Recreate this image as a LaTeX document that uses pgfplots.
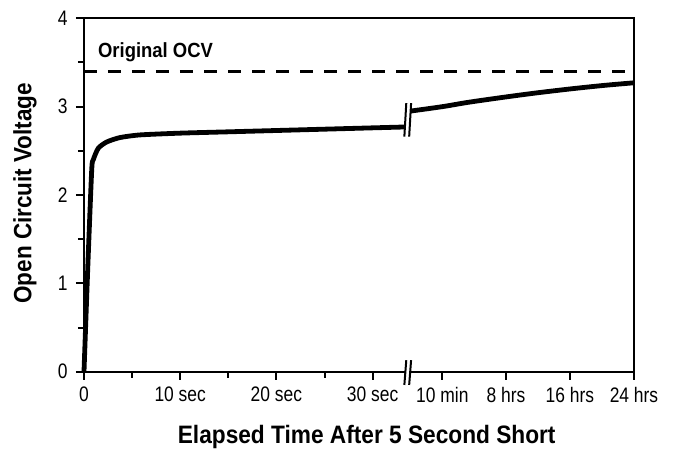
\documentclass[border=0pt]{standalone}
\usepackage{pgfplots}
\pgfplotsset{compat=1.18}
\usepackage{fontspec}
\setmainfont{Liberation Sans}[FakeStretch=0.83]
\newfontfamily\bfont{Liberation Sans}[FakeStretch=0.9]
\begin{document}
\begin{tikzpicture}[x=1pt,y=1pt]
\useasboundingbox (-84,-78.3) rectangle (596,371.7);
\begin{axis}[
  at={(0,0)}, anchor=south west,
  scale only axis, width=550pt, height=353.4pt,
  xmin=0, xmax=57.17, ymin=0, ymax=4,
  axis line style={line width=2pt},
  xtick={0,10,20,30,37.25,43.87,50.5,57.17},
  xticklabels={0,10 sec,20 sec,30 sec,10 min,8 hrs,16 hrs,24 hrs},
  minor xtick={5,15,25},
  ytick={0,1,2,3,4},
  minor ytick={0.5,1.5,2.5,3.5},
  /pgf/number format/assume math mode=true,
  tick align=outside, xtick pos=bottom, ytick pos=left,
  major tick length=8pt, minor tick length=6pt,
  every tick/.style={line width=2pt, black},
  every minor tick/.style={line width=2pt, black},
  tick label style={font=\fontsize{21}{21}\selectfont},
  xticklabel style={yshift=-4pt},
  yticklabel style={xshift=-5pt},
  xlabel={Elapsed Time After 5 Second Short},
  ylabel={Open Circuit Voltage},
  every axis x label/.style={at={(axis description cs:0.514,-0.2018)},anchor=base,font=\bfont\bfseries\fontsize{25.2}{25.2}\selectfont},
  every axis y label/.style={at={(axis description cs:-0.0958,0.505)},anchor=base,rotate=90,font=\bfont\bfseries\fontsize{25}{25}\selectfont},
  clip=false,
]
% original OCV
\addplot[black, line width=2.5pt, dash pattern=on 13pt off 11pt] coordinates {(0,3.4) (57.17,3.4)};
% left segment (seconds)
\addplot[black, line width=4.8pt, smooth, tension=0.4] coordinates {
 (0,0) (0.4,1.2) (0.8,2.28) (0.97,2.40) (1.49,2.53) (2.36,2.60) (3.74,2.65) (5.82,2.68) (9.98,2.70)
 (15,2.715) (20,2.73) (25,2.745) (30,2.76) (33.4,2.77)};
% right segment (minutes/hours)
\addplot[black, line width=4.8pt, smooth, tension=0.5] coordinates {
 (33.95,2.95) (37.25,3.00) (40,3.05) (43.87,3.11) (47,3.155) (50.5,3.20) (54,3.24) (57.17,3.27)};
% break marks
\fill[white] (axis cs:33.4,-0.05) rectangle (axis cs:33.9,0.05);
\addplot[black, line width=2pt] coordinates {(33.3,-0.15) (33.5,0.13)};
\addplot[black, line width=2pt] coordinates {(33.8,-0.15) (34.0,0.13)};
\addplot[black, line width=2pt] coordinates {(33.3,2.66) (33.5,3.04)};
\addplot[black, line width=2pt] coordinates {(33.8,2.66) (34.0,3.04)};
\node[anchor=base west, font=\bfont\bfseries\fontsize{20.5}{20.5}\selectfont] at (axis cs:1.1,3.56) {Original OCV};
\end{axis}
\end{tikzpicture}
\end{document}
